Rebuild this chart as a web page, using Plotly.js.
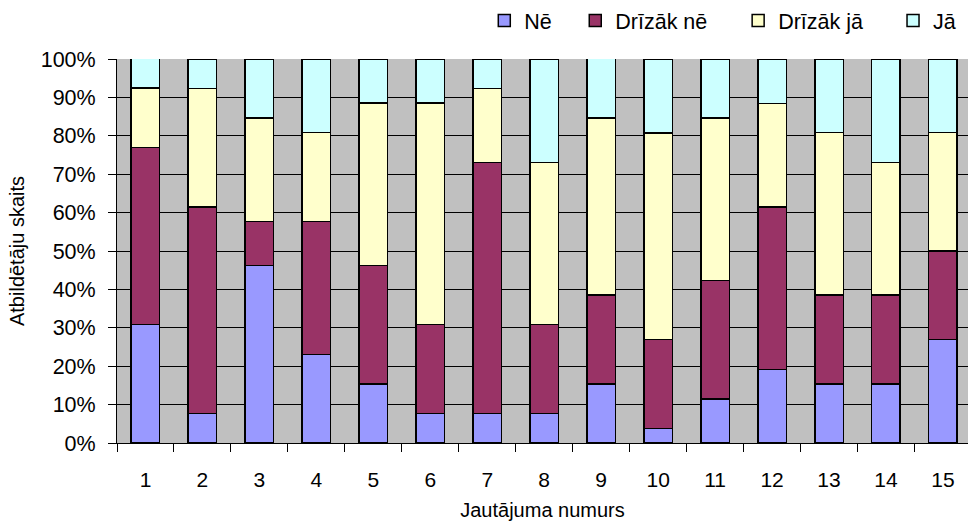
<!DOCTYPE html>
<html>
<head>
<meta charset="utf-8">
<script src="https://cdn.plot.ly/plotly-3.0.1.min.js"></script>
<style>
html, body { margin: 0; padding: 0; background: #ffffff; overflow: hidden; }
#chart { width: 968px; height: 524px; }
</style>
</head>
<body>
<div id="chart"></div>
<script>
// Categories (question numbers)
const categories = ["1","2","3","4","5","6","7","8","9","10","11","12","13","14","15"];

// Series values (% of respondents)
const ne        = [30.8, 7.7, 46.2, 23.1, 15.4, 7.7, 7.7, 7.7, 15.4, 3.8, 11.5, 19.2, 15.4, 15.4, 26.9];
const drizakNe  = [46.2, 53.8, 11.5, 34.6, 30.8, 23.1, 65.4, 23.1, 23.1, 23.1, 30.8, 42.3, 23.1, 23.1, 23.1];
const drizakJa  = [15.4, 30.8, 26.9, 23.1, 42.3, 57.7, 19.2, 42.3, 46.2, 53.8, 42.3, 26.9, 42.3, 34.6, 30.8];
const ja        = [7.7, 7.7, 15.4, 19.2, 11.5, 11.5, 7.7, 26.9, 15.4, 19.2, 15.4, 11.5, 19.2, 26.9, 19.2];

const seriesNames = ["Nē", "Drīzāk nē", "Drīzāk jā", "Jā"];
const seriesValues = [ne, drizakNe, drizakJa, ja];
const seriesColors = ["#9999FF", "#993366", "#FFFFCC", "#CCFFFF"];

// Y tick labels
const yTickVals = [0,10,20,30,40,50,60,70,80,90,100];
const yTickText = ["0%","10%","20%","30%","40%","50%","60%","70%","80%","90%","100%"];

const FONT = "Arial, 'Liberation Sans', sans-serif";
const legendIds = ["legend", "legend2", "legend3", "legend4"];
const legendX = [0.4316, 0.5385, 0.7299, 0.9119];

const traces = seriesNames.map((name, i) => ({
  type: "bar",
  name: name,
  x: categories,
  y: seriesValues[i],
  width: 0.5,
  legend: legendIds[i],
  marker: { color: seriesColors[i], line: { color: "#000000", width: 1.5 } },
  hoverinfo: "x+y+name"
}));

const layout = {
  width: 968,
  height: 524,
  margin: { l: 116.5, r: 0, t: 57, b: 81, pad: 0 },
  paper_bgcolor: "#ffffff",
  plot_bgcolor: "#C0C0C0",
  barmode: "stack",
  font: { family: FONT, size: 21, color: "#000000" },
  showlegend: true,
  xaxis: {
    type: "category",
    range: [-0.5, 14.44],
    tickson: "boundaries",
    ticks: "outside",
    ticklen: 8,
    tickcolor: "#000000",
    tickwidth: 1,
    showline: true,
    linecolor: "#000000",
    linewidth: 1,
    showgrid: false,
    ticklabelstandoff: 18,
    tickfont: { family: FONT, size: 21, color: "#000000" },
    title: { text: "Jautājuma numurs", font: { family: FONT, size: 20, color: "#000000" }, standoff: 12 },
    fixedrange: true
  },
  yaxis: {
    range: [0, 100],
    tickvals: yTickVals,
    ticktext: yTickText,
    ticks: "outside",
    ticklen: 8,
    tickcolor: "#000000",
    tickwidth: 1,
    showline: true,
    linecolor: "#000000",
    linewidth: 1,
    showgrid: true,
    gridcolor: "#000000",
    gridwidth: 1,
    zeroline: false,
    ticklabelstandoff: 8,
    tickfont: { family: FONT, size: 21.5, color: "#000000" },
    title: { text: "Atbildētāju skaits", font: { family: FONT, size: 20, color: "#000000" }, standoff: 10 },
    fixedrange: true
  }
};

legendIds.forEach((id, i) => {
  layout[id] = {
    orientation: "h",
    x: legendX[i], xanchor: "left",
    y: 1.1, yanchor: "middle",
    font: { family: FONT, size: 21.5, color: "#000000" },
    bgcolor: "rgba(0,0,0,0)",
    borderwidth: 0
  };
});

Plotly.newPlot("chart", traces, layout, { displayModeBar: false, staticPlot: true });
</script>
</body>
</html>
